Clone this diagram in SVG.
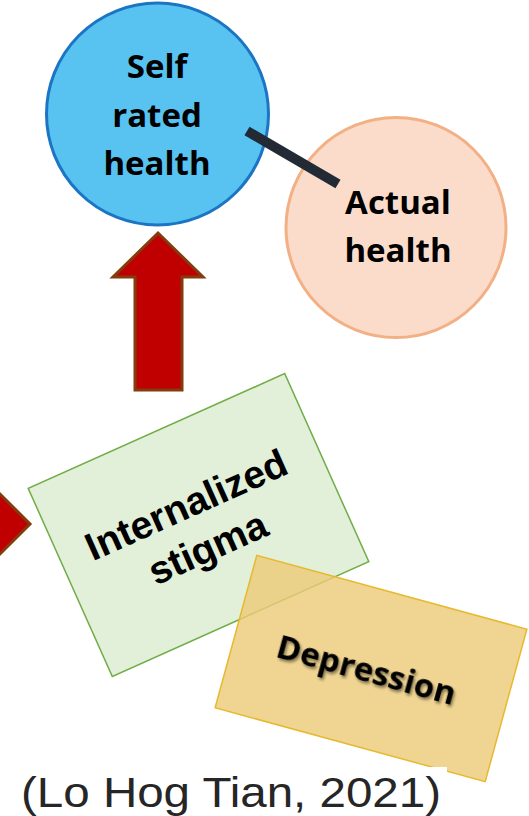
<svg xmlns="http://www.w3.org/2000/svg" width="529" height="816" viewBox="0 0 529 816">
  <defs>
    <style>
      .block-arrow { fill: #c00000; stroke: #843c0c; stroke-width: 3; stroke-linejoin: miter; }
      .node-label { font-family: "Open Sans", "Noto Sans", "DejaVu Sans", sans-serif; font-weight: 700; font-size: 33px; fill: #000; text-anchor: middle; }
      .box-label { font-family: "Liberation Sans", Arial, sans-serif; font-weight: 700; font-size: 39px; fill: #000; text-anchor: middle; }
      .caption { font-family: "Liberation Sans", Arial, sans-serif; font-size: 42px; fill: #262626; }
    </style>
    <filter id="soft-shadow" x="-20%" y="-40%" width="140%" height="180%">
      <feGaussianBlur in="SourceAlpha" stdDeviation="1.5"/>
      <feOffset dx="1.5" dy="2" result="blur"/>
      <feComponentTransfer><feFuncA type="linear" slope="0.45"/></feComponentTransfer>
      <feMerge><feMergeNode/><feMergeNode in="SourceGraphic"/></feMerge>
    </filter>
  </defs>

  <rect x="0" y="0" width="529" height="816" fill="#ffffff"/>

  <!-- Self rated health -->
  <g id="self-rated-health">
    <circle cx="157.5" cy="114" r="111" fill="#58c3f0" stroke="#1b75c4" stroke-width="3"/>
    <text class="node-label" x="157" y="78">Self</text>
    <text class="node-label" x="157" y="127">rated</text>
    <text class="node-label" x="157" y="175">health</text>
  </g>

  <!-- Actual health -->
  <g id="actual-health">
    <circle cx="396" cy="227.5" r="110" fill="#fbdccb" stroke="#f2b084" stroke-width="3"/>
    <text class="node-label" x="398" y="214">Actual</text>
    <text class="node-label" x="398" y="262">health</text>
  </g>

  <!-- Internalized stigma -->
  <g id="internalized-stigma" transform="translate(198.5,525) rotate(-24.1)">
    <rect x="-140.5" y="-103" width="281" height="206" fill="#e2efd9" stroke="#70ad47" stroke-width="1.5"/>
    <text class="box-label" x="-3" y="-10">Internalized</text>
    <text class="box-label" x="-1" y="38">stigma</text>
  </g>

  <!-- Depression -->
  <g id="depression" transform="translate(371,668.5) rotate(15.3)">
    <rect x="-140" y="-79" width="280" height="158" fill="#eccb77" fill-opacity="0.8" stroke="#e6b92e" stroke-width="1.5"/>
    <text class="node-label" x="-4" y="14" font-size="34" filter="url(#soft-shadow)">Depression</text>
  </g>

  <!-- connectors -->
  <g id="connectors">
    <line x1="247" y1="131" x2="338" y2="184" stroke="#222a35" stroke-width="10"/>
    <polygon class="block-arrow" points="158,233 203,277 182,277 182,390 135,390 135,277 113,277"/>
    <polygon class="block-arrow" points="-40,454 30,524 -40,594"/>
  </g>

  <!-- citation -->
  <g id="citation">
    <rect x="0" y="767" width="447" height="49" fill="#ffffff"/>
    <text class="caption" x="21" y="807" textLength="420" lengthAdjust="spacingAndGlyphs">(Lo Hog Tian, 2021)</text>
  </g>
</svg>
